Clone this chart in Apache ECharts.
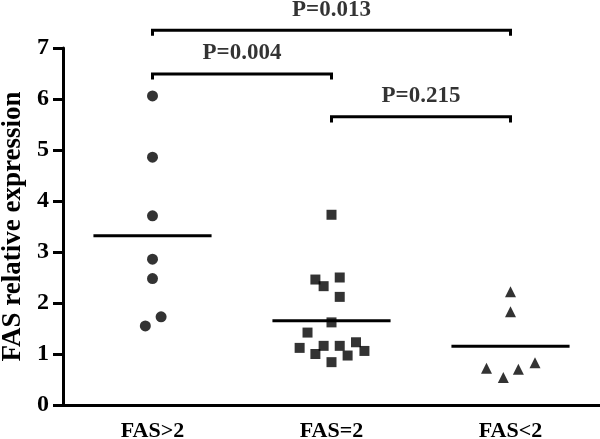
<!DOCTYPE html>
<html>
<head>
<meta charset="utf-8">
<script src="https://cdn.jsdelivr.net/npm/echarts@6/dist/echarts.min.js"></script>
<style>html,body{margin:0;padding:0;background:#fff}#c{width:600px;height:439px}</style>
</head>
<body>
<div id="c"></div>
<script>
const categories = ['FAS>2', 'FAS=2', 'FAS<2'];
const yTicks = [0, 1, 2, 3, 4, 5, 6, 7];
// values
const highValues = [6.06, 4.86, 3.71, 2.86, 2.48, 1.73, 1.55];
const highJitter = [0, 0, 0, 0, 0, 0.048, -0.04];
const equalValues = [3.73, 2.46, 2.50, 2.33, 2.12, 1.62, 1.42, 1.12, 1.16, 1.00, 1.16, 1.23, 0.97, 1.06, 0.84];
const equalJitter = [0, -0.09, 0.046, -0.044, 0.046, 0, -0.134, -0.178, -0.044, -0.09, 0.046, 0.137, 0.09, 0.184, 0];
const lowValues = [2.22, 1.83, 0.72, 0.54, 0.70, 0.83];
const lowJitter = [0, 0, -0.134, -0.04, 0.044, 0.137];
const groupMeans = [3.32, 1.65, 1.15];
// significance brackets
const compFrom = [0, 1, 0];
const compTo = [1, 2, 2];
const compLabels = ['P=0.004', 'P=0.215', 'P=0.013'];
const compLevels = [6.49, 5.65, 7.35];

const FONT = '"Liberation Serif", "Times New Roman", serif';
const center = i => i + 0.5;
const halfMean = 0.33;
const drop = 0.11;

const series = [];
function pts(vals, jit, gi) { return vals.map((v, k) => [center(gi) + jit[k], v]); }
series.push({ type: 'scatter', xAxisIndex: 1, symbol: 'circle', symbolSize: 11, itemStyle: { color: '#000' }, data: pts(highValues, highJitter, 0), z: 5 });
series.push({ type: 'scatter', xAxisIndex: 1, symbol: 'rect', symbolSize: 10, itemStyle: { color: '#000' }, data: pts(equalValues, equalJitter, 1), z: 5 });
series.push({ type: 'scatter', xAxisIndex: 1, symbol: 'triangle', symbolSize: 11, itemStyle: { color: '#000' }, data: pts(lowValues, lowJitter, 2), z: 5 });
groupMeans.forEach((m, i) => {
  series.push({ type: 'line', xAxisIndex: 1, symbol: 'none', silent: true, lineStyle: { color: '#000', width: 3 },
    data: [[center(i) - halfMean, m], [center(i) + halfMean, m]], z: 4 });
});
compLabels.forEach((lab, i) => {
  const a = center(compFrom[i]), b = center(compTo[i]), y = compLevels[i];
  series.push({ type: 'line', xAxisIndex: 1, symbol: 'none', clip: false, silent: true,
    lineStyle: { color: '#000', width: 3, join: 'miter', cap: 'butt' },
    data: [[a, y - drop], [a, y], [b, y], [b, y - drop]] });
  series.push({ type: 'scatter', xAxisIndex: 1, symbolSize: 0, clip: false, silent: true,
    label: { show: true, position: 'top', distance: 9, formatter: lab, color: '#000', fontFamily: FONT, fontWeight: 'bold', fontSize: 23 },
    data: [[(a + b) / 2, y]] });
});

const chart = echarts.init(document.getElementById('c'), null, { renderer: 'canvas' });
chart.setOption({
  animation: false,
  backgroundColor: '#fff',
  grid: { left: 63, right: 0, top: 48, bottom: 34, containLabel: false, outerBoundsMode: 'none' },
  xAxis: [
    { type: 'category', data: categories, boundaryGap: true,
      axisLine: { lineStyle: { color: '#000', width: 3 } },
      axisTick: { alignWithLabel: true, length: 10, lineStyle: { color: '#000', width: 3 } },
      axisLabel: { color: '#000', fontFamily: FONT, fontWeight: 'bold', fontSize: 22, margin: 15 },
      splitLine: { show: false } },
    { type: 'value', min: 0, max: 3, show: false, splitLine: { show: false } }
  ],
  yAxis: {
    type: 'value', min: yTicks[0], max: yTicks[yTicks.length - 1], interval: 1,
    name: 'FAS relative expression', nameLocation: 'middle', nameGap: 35,
    nameTextStyle: { color: '#000', fontFamily: FONT, fontWeight: 'bold', fontSize: 27 },
    axisLine: { show: true, lineStyle: { color: '#000', width: 3 } },
    axisTick: { show: true, length: 10, lineStyle: { color: '#000', width: 3 } },
    axisLabel: { color: '#000', fontFamily: FONT, fontWeight: 'bold', fontSize: 24, margin: 14 },
    splitLine: { show: false }
  },
  series: series
});
</script>
</body>
</html>
